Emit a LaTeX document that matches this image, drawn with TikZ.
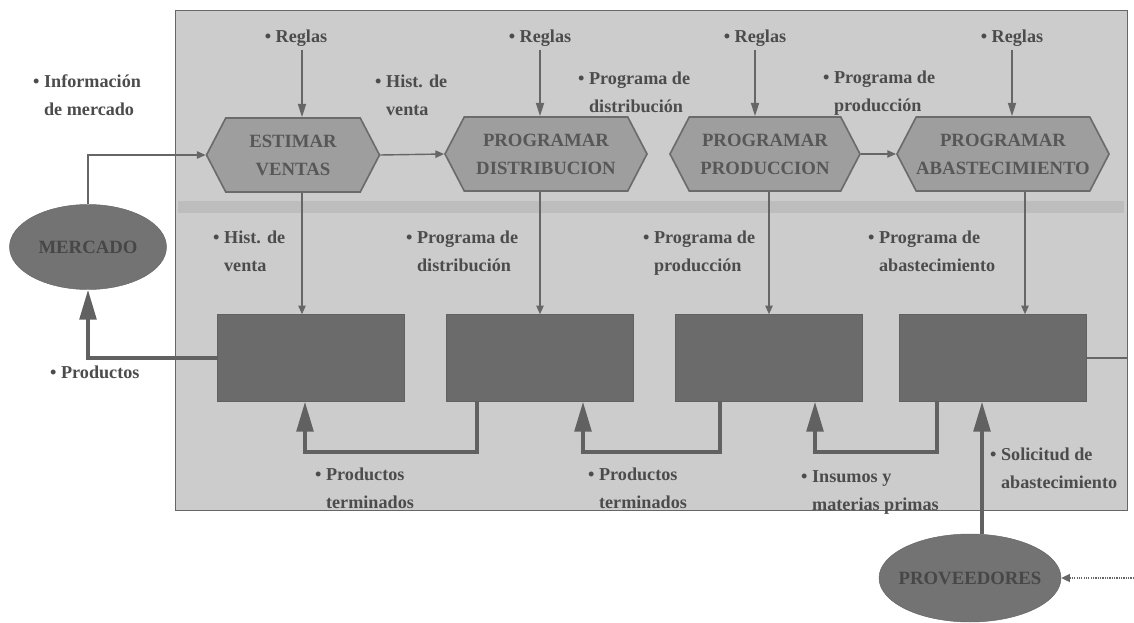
\documentclass[tikz,border=0pt]{standalone}
\usepackage{fontspec}
\setmainfont{Liberation Serif}
\usepackage{tikz}
\usetikzlibrary{arrows.meta,positioning,shapes.geometric,shapes.symbols}

% bullet item with hanging second line
\newcommand{\itm}[2]{\textbullet\ \begin{tabular}[t]{@{}l@{}}#1\\#2\end{tabular}}

\begin{document}
\begin{tikzpicture}[x=0.3mm,y=-0.3mm,
  every node/.style={font=\fontsize{15.5}{23.5}\selectfont\bfseries, text=black!70},
  frame/.style={draw=black!60, fill=black!20, minimum width=285.6mm,
                minimum height=150mm, inner sep=0pt},
  hexbox/.style={signal, signal to=east and west, signal pointer angle=125,
                 draw=black!58, line width=1.4pt, fill=black!38, inner sep=0pt,
                 minimum height=22.2mm, align=center,
                 font=\fontsize{16}{24}\selectfont\bfseries, text=black!66},
  procbox/.style={draw=black!62, fill=black!58, minimum width=56mm,
                  minimum height=26.1mm},
  extbox/.style={ellipse, draw=black!60, fill=black!55, inner ysep=0pt,
                 inner xsep=-2.5mm,
                 font=\fontsize{16}{24}\selectfont\bfseries, text=black!72},
  lbl/.style={inner sep=0pt, anchor=north west, align=left},
  arr/.style={-{Triangle[length=4mm,width=2.4mm]}, line width=1.5pt, draw=black!60},
  smallarr/.style={-{Triangle[length=2.6mm,width=2.2mm]}, line width=1.2pt, draw=black!60},
  bigarr/.style={-{Triangle[length=9mm,width=5mm]}, line width=3.2pt, draw=black!62},
  dotarr/.style={-{Triangle[length=2.6mm,width=2.4mm]}, densely dotted, line width=1pt, draw=black!60}
]
\useasboundingbox (0,0) rectangle (1134,623);

\node[frame] (frame) at (651,260) {};
\fill[black!26] (178,201) rectangle (1124,213);

% planning
\node[hexbox, minimum width=51.9mm] (hex1) at (293,155) {ESTIMAR\\VENTAS};
\node[hexbox, minimum width=60.6mm] (hex2) at (546,154) {PROGRAMAR\\DISTRIBUCION};
\node[hexbox, minimum width=57mm]   (hex3) at (765,154) {PROGRAMAR\\PRODUCCION};
\node[hexbox, minimum width=62.1mm] (hex4) at (1003,154) {PROGRAMAR\\ABASTECIMIENTO};

% execution
\node[procbox] (rect1) at (311,358) {};
\node[procbox] (rect2) at (540,358) {};
\node[procbox] (rect3) at (769,358) {};
\node[procbox] (rect4) at (993,358) {};

\node[extbox, minimum width=47.1mm, minimum height=25.5mm] (merc) at (88,247) {MERCADO};
\node[extbox, minimum width=54.6mm, minimum height=26.4mm] (prov) at (970,578) {PROVEEDORES};

% rules
\node (reg1) at (296,38) {\textbullet\ Reglas};
\node (reg2) at (540,38) {\textbullet\ Reglas};
\node (reg3) at (755,38) {\textbullet\ Reglas};
\node (reg4) at (1012,38) {\textbullet\ Reglas};

\node[lbl] (infm) at (33,68)  {\itm{Información}{de mercado}};
\node[lbl] (hv1)  at (375,68) {\itm{Hist. de}{venta}};
\node[lbl] (pd1)  at (578,65) {\itm{Programa de}{distribución}};
\node[lbl] (pp1)  at (823,64) {\itm{Programa de}{producción}};

\node[lbl] (hv2)  at (213,224) {\itm{Hist. de}{venta}};
\node[lbl] (pd2)  at (406,224) {\itm{Programa de}{distribución}};
\node[lbl] (pp2)  at (643,224) {\itm{Programa de}{producción}};
\node[lbl] (pa2)  at (868,224) {\itm{Programa de}{abastecimiento}};

\node[lbl] (prod) at (50,366)  {\textbullet\ Productos};
\node[lbl] (pt1)  at (315,461) {\itm{Productos}{terminados}};
\node[lbl] (pt2)  at (588,461) {\itm{Productos}{terminados}};
\node[lbl] (ins)  at (801,463) {\itm{Insumos y}{materias primas}};
\node[lbl] (sol)  at (990,441) {\itm{Solicitud de}{abastecimiento}};

\coordinate (o2) at (477,452);
\coordinate (i1) at (305,452);
\coordinate (o3) at (720,452);
\coordinate (i2) at (583,452);
\coordinate (o4) at (937,452);
\coordinate (i3) at (815,452);
\coordinate (i4) at (982,452);
\coordinate (d1) at (302,0);
\coordinate (d4) at (1025,0);
\coordinate (edge) at (1134,578);

\draw[arr] (reg1.south -| d1) -- (hex1.north -| d1);
\draw[arr] (reg2) -- (reg2 |- hex2.north);
\draw[arr] (reg3) -- (reg3 |- hex3.north);
\draw[arr] (reg4) -- (reg4 |- hex4.north);

\draw[smallarr] (hex1.east) -- (hex2.west);
\draw[smallarr] (hex3.east) -- (hex4.west);

\draw[smallarr] (d1 |- hex1.south) -- (d1 |- rect1.north);
\draw[smallarr] (rect2.north |- hex2.south) -- (rect2.north);
\draw[smallarr] (rect3.north |- hex3.south) -- (rect3.north);
\draw[smallarr] (d4 |- hex4.south) -- (d4 |- rect4.north);

\draw[smallarr] (merc.north) |- (hex1.west);
\draw[bigarr] (rect1.west) -| (merc.south);

\draw[bigarr] (rect2.south -| o2) -- (o2) -- (i1) -- (rect1.south -| i1);
\draw[bigarr] (rect3.south -| o3) -- (o3) -- (i2) -- (rect2.south -| i2);
\draw[bigarr] (rect4.south -| o4) -- (o4) -- (i3) -- (rect3.south -| i3);
\draw[bigarr] (prov.north -| i4) -- (rect4.south -| i4);

\draw[line width=1.2pt, black!60] (rect4.east) -- (rect4.east -| frame.east);
\draw[dotarr] (edge) -- (prov.east);
\end{tikzpicture}
\end{document}
